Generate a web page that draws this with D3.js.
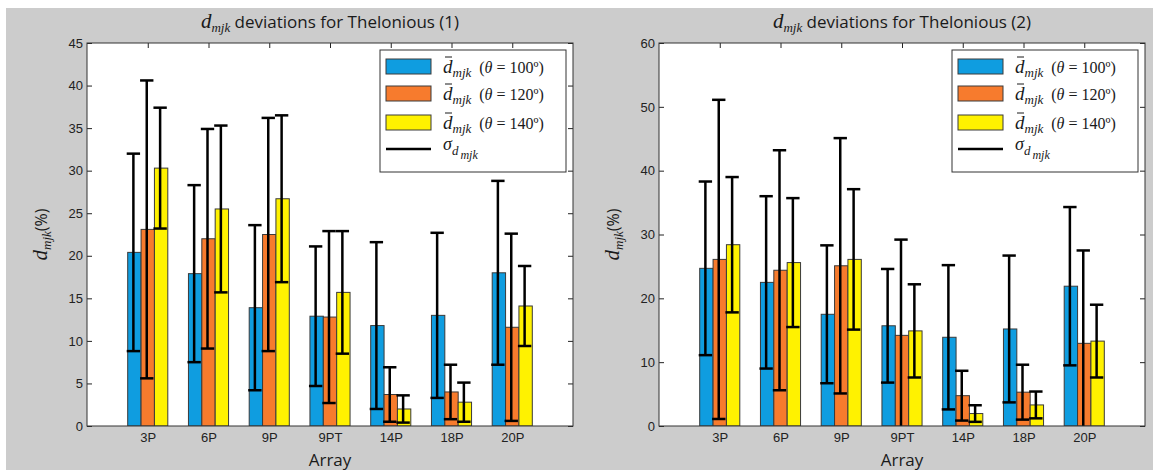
<!DOCTYPE html>
<html>
  <head>
    <meta charset="UTF-8">
    <script src="https://cdn.jsdelivr.net/npm/d3@7"></script>
    <title>dmjk deviations</title>
    <style>
      body { margin: 0; background: #fff; }
      svg { display: block; }
    </style>
  </head>
  <body>
    <svg id="fig" width="1159" height="470"></svg>
    <script>
    // categories (arrays)
    var arrays = ["3P", "6P", "9P", "9PT", "14P", "18P", "20P"];
    var thetas = ["100", "120", "140"];

    // Thelonious (1): mean deviation and sigma per theta
    var mean1_100 = [20.4, 17.9, 13.9, 12.9, 11.8, 13.0, 18.0];
    var mean1_120 = [23.1, 22.0, 22.5, 12.8, 3.7, 4.0, 11.6];
    var mean1_140 = [30.3, 25.5, 26.7, 15.7, 2.0, 2.8, 14.1];
    var sd1_100 = [11.6, 10.4, 9.7, 8.2, 9.8, 9.7, 10.8];
    var sd1_120 = [17.5, 12.9, 13.7, 10.1, 3.2, 3.2, 11.0];
    var sd1_140 = [7.1, 9.8, 9.8, 7.2, 1.6, 2.3, 4.7];

    // Thelonious (2)
    var mean2_100 = [24.7, 22.5, 17.5, 15.7, 13.9, 15.2, 21.9];
    var mean2_120 = [26.1, 24.4, 25.1, 14.2, 4.75, 5.3, 12.95];
    var mean2_140 = [28.4, 25.6, 26.1, 14.9, 1.95, 3.3, 13.3];
    var sd2_100 = [13.6, 13.5, 10.8, 8.9, 11.3, 11.5, 12.4];
    var sd2_120 = [25.0, 18.8, 20.0, 15.0, 3.9, 4.3, 14.55];
    var sd2_140 = [10.6, 10.1, 11.0, 7.3, 1.3, 2.1, 5.7];

    var yTicks1 = [0, 5, 10, 15, 20, 25, 30, 35, 40, 45];
    var yTicks2 = [0, 10, 20, 30, 40, 50, 60];

    var colors = ["#0f9de0", "#f77b2d", "#fff200"];
    var serif = "'Liberation Serif', 'DejaVu Serif', serif";
    var sans = "'Open Sans', 'Noto Sans', sans-serif";
    var tickFont = "'Liberation Sans', Arial, sans-serif";

    var svg = d3.select("#fig");

    // gray figure background
    svg.append("rect")
      .attr("x", 6).attr("y", 8)
      .attr("width", 1147).attr("height", 462)
      .attr("fill", "#cccccc");

    function drawPanel(opts) {
      var left = opts.left, right = opts.left + 486, top = 43, bottom = 426;
      var x = d3.scaleLinear().domain([0, 8]).range([left, right]);
      var y = d3.scaleLinear().domain([0, opts.ymax]).range([bottom, top]);
      var g = svg.append("g");

      g.append("rect")
        .attr("x", left).attr("y", top)
        .attr("width", right - left).attr("height", bottom - top)
        .attr("fill", "#fff");

      var clipId = "clip" + opts.id;
      g.append("clipPath").attr("id", clipId)
        .append("rect")
        .attr("x", left).attr("y", top)
        .attr("width", right - left).attr("height", bottom - top);

      var catVals = arrays.map(function(d, i) { return i + 1; });

      // axes (inward ticks, MATLAB box)
      g.append("g").attr("transform", "translate(0," + bottom + ")")
        .call(d3.axisBottom(x).tickValues(catVals)
          .tickFormat(function(d) { return arrays[d - 1]; })
          .tickSizeInner(-5).tickSizeOuter(0).tickPadding(7));
      g.append("g").attr("transform", "translate(0," + top + ")")
        .call(d3.axisTop(x).tickValues(catVals).tickFormat("")
          .tickSizeInner(-5).tickSizeOuter(0));
      g.append("g").attr("transform", "translate(" + left + ",0)")
        .call(d3.axisLeft(y).tickValues(opts.ticks)
          .tickSizeInner(-5).tickSizeOuter(0).tickPadding(4));
      g.append("g").attr("transform", "translate(" + right + ",0)")
        .call(d3.axisRight(y).tickValues(opts.ticks).tickFormat("")
          .tickSizeInner(-5).tickSizeOuter(0));
      g.selectAll(".domain").remove();
      g.selectAll(".tick line").attr("stroke", "#222");
      g.selectAll(".tick text")
        .attr("font-family", tickFont).attr("font-size", 13).attr("fill", "#222");

      // bars
      var bw = x(0.22) - x(0);
      var plot = g.append("g").attr("clip-path", "url(#" + clipId + ")");
      opts.means.forEach(function(series, s) {
        plot.selectAll(".bar" + s)
          .data(series)
          .enter().append("rect")
          .attr("x", function(d, i) { return x(i + 1 + (s - 1) * 0.22) - bw / 2; })
          .attr("y", function(d) { return y(d); })
          .attr("width", bw)
          .attr("height", function(d) { return y(0) - y(d); })
          .attr("fill", colors[s])
          .attr("stroke", "#3a3a3a")
          .attr("stroke-width", 1);
      });

      // error bars
      opts.means.forEach(function(series, s) {
        var sd = opts.sds[s];
        series.forEach(function(m, i) {
          var cx = x(i + 1 + (s - 1) * 0.22) - 1;
          var lo = m - sd[i], hi = m + sd[i];
          var cw = bw / 2;
          plot.append("line")
            .attr("x1", cx).attr("x2", cx)
            .attr("y1", y(lo)).attr("y2", y(hi))
            .attr("stroke", "#000").attr("stroke-width", 2.5);
          [lo, hi].forEach(function(v) {
            plot.append("line")
              .attr("x1", cx - cw).attr("x2", cx + cw)
              .attr("y1", y(v)).attr("y2", y(v))
              .attr("stroke", "#000").attr("stroke-width", 2.5);
          });
        });
      });

      // box
      g.append("rect")
        .attr("x", left).attr("y", top)
        .attr("width", right - left).attr("height", bottom - top)
        .attr("fill", "none").attr("stroke", "#333").attr("stroke-width", 1);

      // title
      var cxm = (left + right) / 2;
      var t = g.append("text").attr("x", cxm).attr("y", 28)
        .attr("text-anchor", "middle").attr("fill", "#1a1a1a");
      t.append("tspan").attr("font-family", serif).attr("font-style", "italic")
        .attr("font-size", 21).text("d");
      t.append("tspan").attr("font-family", serif).attr("font-style", "italic")
        .attr("font-size", 13).attr("dy", 4).text("mjk");
      t.append("tspan").attr("font-family", sans).attr("font-size", 17)
        .attr("dy", -4).text(" deviations for Thelonious (" + opts.id + ")");

      // x label
      g.append("text").attr("x", cxm).attr("y", 466)
        .attr("text-anchor", "middle").attr("font-family", sans)
        .attr("font-size", 17).attr("fill", "#1a1a1a").text("Array");

      // y label
      var yl = g.append("text")
        .attr("transform", "translate(" + (left - 40) + "," + ((top + bottom) / 2) + ") rotate(-90)")
        .attr("text-anchor", "middle").attr("fill", "#1a1a1a");
      yl.append("tspan").attr("font-family", serif).attr("font-style", "italic")
        .attr("font-size", 21).text("d");
      yl.append("tspan").attr("font-family", serif).attr("font-style", "italic")
        .attr("font-size", 13).attr("dy", 4).text("mjk");
      yl.append("tspan").attr("font-family", sans).attr("font-size", 16)
        .attr("dy", -4).text("(%)");

      // legend
      var lx = right - 193, ly = 50;
      var lg = g.append("g");
      lg.append("rect").attr("x", lx).attr("y", ly)
        .attr("width", 186).attr("height", 122)
        .attr("fill", "#fff").attr("stroke", "#333").attr("stroke-width", 1);
      var rowY = [ly + 9, ly + 36, ly + 65];
      thetas.forEach(function(th, s) {
        lg.append("rect").attr("x", lx + 6).attr("y", rowY[s])
          .attr("width", 45).attr("height", 15)
          .attr("fill", colors[s]).attr("stroke", "#3a3a3a");
        var tx = lx + 63, ty = rowY[s] + 14;
        var lt = lg.append("text").attr("x", tx).attr("y", ty)
          .attr("font-family", serif).attr("fill", "#1a1a1a");
        lt.append("tspan").attr("font-style", "italic").attr("font-size", 19).text("d");
        lt.append("tspan").attr("font-style", "italic").attr("font-size", 13)
          .attr("dy", 4).text("mjk");
        lt.append("tspan").attr("font-size", 16).attr("dy", -4)
          .text("  (").attr("xml:space", "preserve");
        lt.append("tspan").attr("font-size", 16).attr("font-style", "italic").text("θ");
        lt.append("tspan").attr("font-size", 16).text(" = " + th + "º)");
        lg.append("line").attr("x1", tx + 2).attr("x2", tx + 9)
          .attr("y1", ty - 16).attr("y2", ty - 16)
          .attr("stroke", "#1a1a1a").attr("stroke-width", 1);
      });
      lg.append("line").attr("x1", lx + 6).attr("x2", lx + 51)
        .attr("y1", ly + 99).attr("y2", ly + 99)
        .attr("stroke", "#000").attr("stroke-width", 2.5);
      var st = lg.append("text").attr("x", lx + 63).attr("y", ly + 100)
        .attr("font-family", serif).attr("fill", "#1a1a1a");
      st.append("tspan").attr("font-style", "italic").attr("font-size", 18).text("σ");
      st.append("tspan").attr("font-style", "italic").attr("font-size", 13)
        .attr("dy", 5).text("d");
      st.append("tspan").attr("font-style", "italic").attr("font-size", 12)
        .attr("dy", 4).attr("dx", 2).text("mjk");
    }

    drawPanel({
      id: 1, left: 87, ymax: 45, ticks: yTicks1,
      means: [mean1_100, mean1_120, mean1_140],
      sds: [sd1_100, sd1_120, sd1_140]
    });
    drawPanel({
      id: 2, left: 659, ymax: 60, ticks: yTicks2,
      means: [mean2_100, mean2_120, mean2_140],
      sds: [sd2_100, sd2_120, sd2_140]
    });
    </script>
  </body>
</html>
